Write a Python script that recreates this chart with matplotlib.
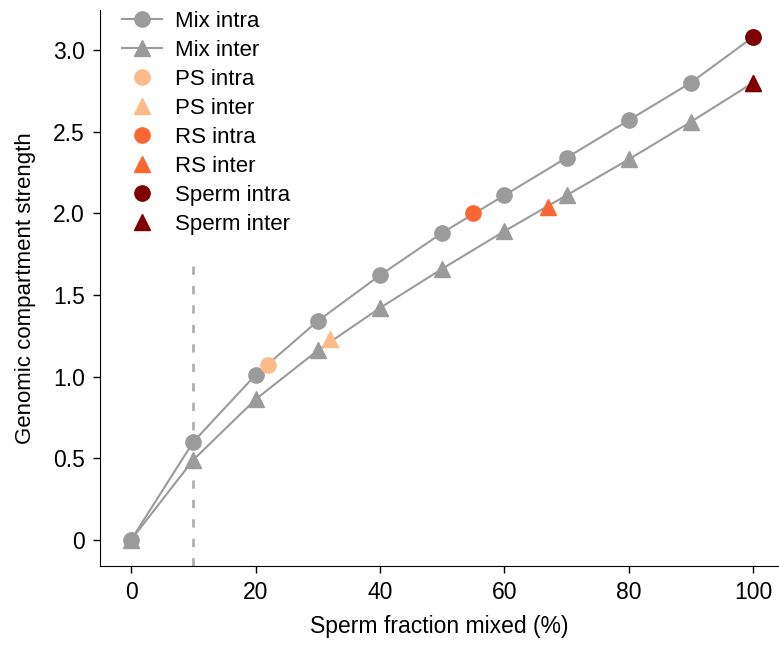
import numpy as np
import matplotlib.pyplot as plt
from matplotlib.ticker import FuncFormatter

plt.rcParams['font.family'] = ['Liberation Sans', 'DejaVu Sans']

# Dados
mix_x = [0, 10, 20, 30, 40, 50, 60, 70, 80, 90, 100]
mix_intra = [0.0, 0.60, 1.01, 1.34, 1.62, 1.88, 2.11, 2.34, 2.57, 2.80, 3.08]
mix_inter = [0.0, 0.49, 0.86, 1.16, 1.42, 1.66, 1.89, 2.11, 2.33, 2.56, 2.80]

ps_x = [22, 32]
ps_y = [1.07, 1.23]
rs_x = [55, 67]
rs_y = [2.00, 2.04]
sperm_x = [100, 100]
sperm_y = [3.08, 2.80]

grey = '#9b9b9b'
c_ps = '#fdbb8a'
c_rs = '#fc6633'
c_sperm = '#7f0000'
ms = 11

fig = plt.figure(figsize=(7.79, 6.45), dpi=100)
ax = fig.add_axes([100 / 779, 79 / 645, 678 / 779, 556 / 645])

ax.vlines(10, -0.16, 1.69, colors='#b0b0b0', linestyles=(0, (3, 4)), linewidth=2)

ax.plot(mix_x, mix_intra, color=grey, marker='o', markersize=ms, lw=1.5, label='Mix intra')
ax.plot(mix_x, mix_inter, color=grey, marker='^', markersize=ms, lw=1.5, label='Mix inter')
ax.plot(ps_x[0], ps_y[0], 'o', color=c_ps, markersize=ms, label='PS intra')
ax.plot(ps_x[1], ps_y[1], '^', color=c_ps, markersize=ms, label='PS inter')
ax.plot(rs_x[0], rs_y[0], 'o', color=c_rs, markersize=ms, label='RS intra')
ax.plot(rs_x[1], rs_y[1], '^', color=c_rs, markersize=ms, label='RS inter')
ax.plot(sperm_x[0], sperm_y[0], 'o', color=c_sperm, markersize=ms, label='Sperm intra')
ax.plot(sperm_x[1], sperm_y[1], '^', color=c_sperm, markersize=ms, label='Sperm inter')

ax.set_xlim(-5, 104)
ax.set_ylim(-0.16, 3.245)
ax.set_xticks([0, 20, 40, 60, 80, 100])
ax.set_yticks([0, 0.5, 1.0, 1.5, 2.0, 2.5, 3.0])
ax.yaxis.set_major_formatter(FuncFormatter(lambda v, p: '0' if v == 0 else f'{v:.1f}'))
ax.tick_params(labelsize=16.5, length=5, width=1, pad=6)
for s in ['top', 'right']:
    ax.spines[s].set_visible(False)

ax.set_xlabel('Sperm fraction mixed (%)', fontsize=16.5, labelpad=8)
ax.set_ylabel('Genomic compartment strength', fontsize=16, labelpad=12)

ax.legend(loc='upper left', bbox_to_anchor=(0.013, 1.022), frameon=False, fontsize=16,
          handlelength=1.8, handletextpad=0.6, labelspacing=0.36, borderaxespad=0.2)

fig.savefig('out.png', dpi=100)
